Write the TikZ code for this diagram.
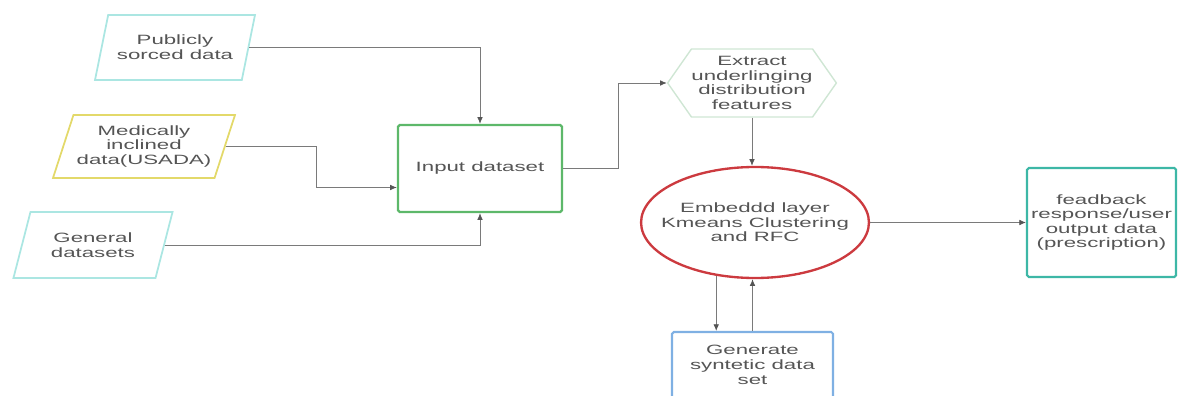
\documentclass[tikz,border=0pt]{standalone}
\usepackage{fontspec}
\newfontfamily\diafont[FakeStretch=1.65]{Liberation Sans}
\usetikzlibrary{arrows.meta,shapes.geometric,shapes.symbols,calc}
\definecolor{pale}{HTML}{ABE6E2}
\definecolor{mustard}{HTML}{E3D96A}
\definecolor{leaf}{HTML}{5DB86A}
\definecolor{mint}{HTML}{CFE6D4}
\definecolor{brick}{HTML}{CC3A3F}
\definecolor{sea}{HTML}{3DB7A6}
\definecolor{sky}{HTML}{7FB0E3}
\definecolor{ink}{HTML}{555555}
\definecolor{wire}{HTML}{7A7A7A}

\begin{document}
\begin{tikzpicture}[
  x=0.03cm, y=-0.03cm,
  txt/.style = {font=\diafont\fontsize{11.5}{12.5}\selectfont, text=ink, align=center},
  dat/.style = {txt, draw=pale, line width=1.5pt, trapezium, trapezium left angle=65,
    trapezium right angle=115, trapezium stretches=true, inner sep=0pt},
  blk/.style = {txt, draw, rounded corners=1.5pt, inner sep=0pt},
  arr/.style = {-{Latex[length=2mm, width=1.7mm, color=ink]}, draw=wire, line width=0.7pt},
]
\useasboundingbox (0,0) rectangle (1178,396);

% sources
\node[dat, minimum width=4.8cm, minimum height=1.95cm] (pub) at (175,47.5) {Publicly\\sorced data};
\node[dat, draw=mustard, minimum width=5.46cm, minimum height=1.89cm] (med) at (144,146.5) {Medically\\inclined\\data(USADA)};
\node[dat, minimum width=4.8cm, minimum height=1.98cm] (gen) at (93,245) {General\\datasets};

% processing
\node[blk, draw=leaf, line width=2pt, minimum width=4.92cm, minimum height=2.61cm] (inp) at (480,168.5) {Input dataset};
\node[txt, signal, signal to=west and east, signal pointer angle=110, draw=mint, line width=1.2pt,
  minimum width=4.95cm, minimum height=2.04cm, inner sep=0pt] (hex) at (752,83) {Extract\\underlinging\\distribution\\features};
\node[txt, ellipse, draw=brick, line width=2pt, minimum width=6.78cm, minimum height=3.33cm,
  inner xsep=-0.4cm, inner ysep=0pt] (emb) at (755,222.5) {Embeddd layer\\Kmeans Clustering\\and RFC};
\node[blk, draw=sea, line width=1.8pt, minimum width=4.47cm, minimum height=3.27cm] (fb) at (1101.5,222.5) {feadback\\response/user\\output data\\(prescription)};
\node[blk, draw=sky, line width=1.8pt, minimum width=4.83cm, minimum height=1.98cm] (syn) at (752.5,365) {Generate\\syntetic data\\set};

% connectors
\draw[arr] (pub.east) -| (inp.north);
\draw[arr] (med.east) -- ++(91,0) |- ([yshift=-0.57cm]inp.west);
\draw[arr] (gen.east) -| (inp.south);
\draw[arr] (inp.east) -- ++(55,0) |- (hex.west);
\draw[arr] (hex.south) -- (hex.south |- emb.north);
\draw[arr] (emb) -- (fb);
\draw[arr] (emb.234) -- (emb.234 |- syn.north);
\draw[arr] (syn.north) -- (syn.north |- emb.south);
\end{tikzpicture}
\end{document}
